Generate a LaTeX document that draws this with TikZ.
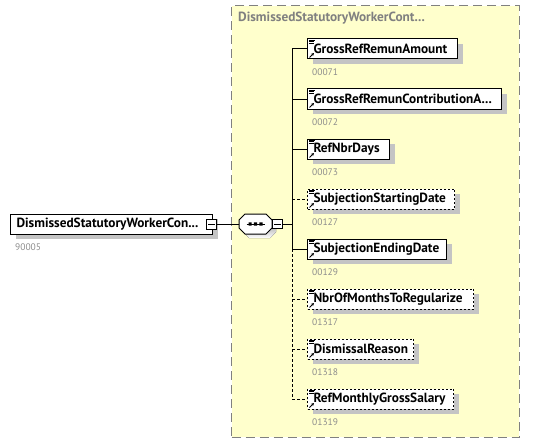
\documentclass[tikz,border=0pt]{standalone}
\usepackage{fontspec}
\setmainfont{PT Sans}
\usetikzlibrary{shadows,arrows.meta}
\definecolor{bgyellow}{HTML}{FFFFCC}
\definecolor{shade}{HTML}{C4C4C4}
\definecolor{idgray}{HTML}{8C8C8C}
\definecolor{framegray}{HTML}{808080}
\newcommand\elicon[1]{%
  \draw[line width=0.7pt,shift={(#1.north west)}] (2,1.5) -- (8,1.5) (2,3.2) -- (7,3.2) (2,4.9) -- (7,4.9);
  \draw[line width=0.9pt,shift={(#1.south west)},-{Stealth[length=3pt,width=3pt]}] (2.5,-2) -- (7,-6.5);
}
\newcommand\minusbox[1]{%
  \draw[line width=0.8pt] ([xshift=2pt]#1.west) -- ([xshift=-2pt]#1.east);
}
\begin{document}
\begin{tikzpicture}[x=1pt,y=-1pt,
  elem/.style={draw=black, line width=1pt, fill=white, minimum height=20pt,
    inner xsep=6pt, inner ysep=0pt, align=left, anchor=west,
    font=\bfseries\fontsize{13.3}{14}\selectfont,
    general shadow={fill=shade, shadow xshift=5pt, shadow yshift=-5pt}},
  opt/.style={dash pattern=on 2pt off 2pt},
  idtxt/.style={font=\fontsize{9.5}{11}\selectfont, text=idgray, anchor=west, inner sep=0pt},
  conn/.style={line width=1pt},
  optconn/.style={line width=1pt, dash pattern=on 3pt off 2pt},
  minus/.style={draw=black, line width=0.8pt, fill=white, minimum size=10pt, inner sep=0pt},
]
\useasboundingbox (0,0) rectangle (533,444);
% frame
\node[draw=framegray, line width=1.2pt, dash pattern=on 9pt off 5pt, fill=bgyellow,
  minimum width=287.5pt, minimum height=431.5pt, anchor=north west, inner sep=0pt] (frame) at (231,5) {};
\node[font=\bfseries\fontsize{13.3}{14}\selectfont, text=framegray, anchor=west, inner sep=0pt] (title) at (238,18) {DismissedStatutoryWorkerCont...};

% root
\node[elem, text width=190pt] (root) at (10,224) {DismissedStatutoryWorkerCon...};
\node[idtxt] (rootid) at (15,247) {90005};
\node[minus] (rm) at (211.5,224) {};
\minusbox{rm}

% sequence compositor
\node[minimum width=33pt, minimum height=20pt, inner sep=0pt] (seq) at (255.5,224) {};
\fill[shade, shift={(seq.center)}] (-16.5+4,-4+4) -- (-10.5+4,-10+4) -- (10.5+4,-10+4) -- (16.5+4,-4+4) -- (16.5+4,4+4) -- (10.5+4,10+4) -- (-10.5+4,10+4) -- (-16.5+4,4+4) -- cycle;
\draw[line width=1pt, fill=white, shift={(seq.center)}] (-16.5,-4) -- (-10.5,-10) -- (10.5,-10) -- (16.5,-4) -- (16.5,4) -- (10.5,10) -- (-10.5,10) -- (-16.5,4) -- cycle;
\draw[line width=1pt, shift={(seq.center)}] (-9,0) -- (9,0);
\fill[shift={(seq.center)}] (-7,-1.6) rectangle (-3.8,1.6) (-1.6,-1.6) rectangle (1.6,1.6) (3.8,-1.6) rectangle (7,1.6);
\node[minus, minimum size=9.5pt] (sm) at (277.5,224) {};
\minusbox{sm}
\coordinate (bus) at (292,224);

% children
\node[elem, text width=138pt] (c1) at (307,49) {GrossRefRemunAmount};
\node[elem, text width=182pt] (c2) at (307,99) {GrossRefRemunContributionA...};
\node[elem, text width=70pt] (c3) at (307,149) {RefNbrDays};
\node[elem, opt, text width=135pt] (c4) at (307,199) {SubjectionStartingDate};
\node[elem, text width=127pt] (c5) at (307,249) {SubjectionEndingDate};
\node[elem, opt, text width=154pt] (c6) at (307,299) {NbrOfMonthsToRegularize};
\node[elem, opt, text width=94pt] (c7) at (307,349) {DismissalReason};
\node[elem, opt, text width=134pt] (c8) at (307,399) {RefMonthlyGrossSalary};
\foreach \c in {c1,c2,c3,c4,c5,c6,c7,c8} {\elicon{\c}}

\node[idtxt] (i1) at (312,72) {00071};
\node[idtxt] (i2) at (312,122) {00072};
\node[idtxt] (i3) at (312,172) {00073};
\node[idtxt] (i4) at (312,222) {00127};
\node[idtxt] (i5) at (312,272) {00129};
\node[idtxt] (i6) at (312,322) {01317};
\node[idtxt] (i7) at (312,372) {01318};
\node[idtxt] (i8) at (312,422) {01319};

% connectors
\draw[conn] (rm.east) -- (seq.west);
\draw[conn] (sm.east) -- (bus);
\draw[conn] (bus |- c1.west) -- (bus |- c5.west);
\draw[optconn] (bus |- c5.west) -- (bus |- c8.west);
\foreach \c in {c1,c2,c3,c5} {\draw[conn] (bus |- \c.west) -- (\c.west);}
\foreach \c in {c4,c6,c7,c8} {\draw[optconn] (bus |- \c.west) -- (\c.west);}
\end{tikzpicture}
\end{document}
